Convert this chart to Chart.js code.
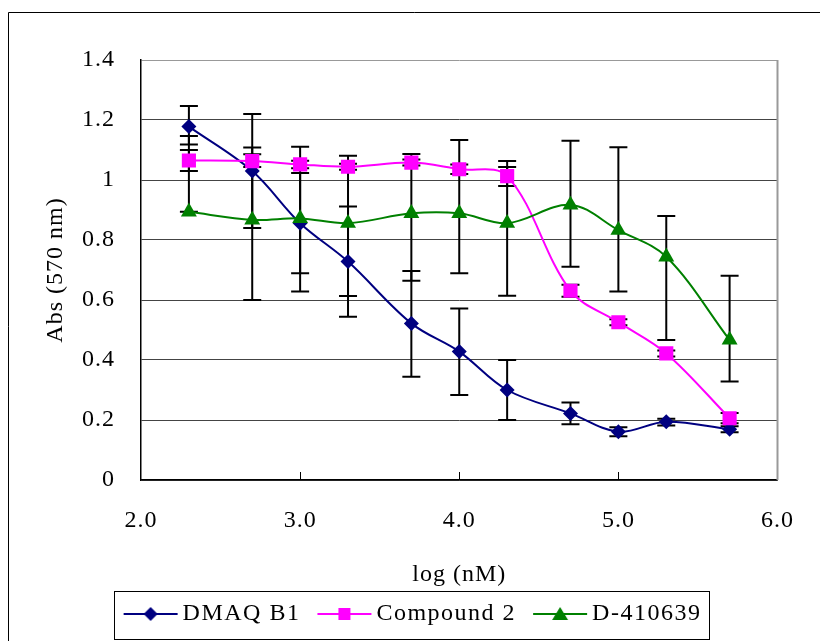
<!DOCTYPE html>
<html>
<head>
<meta charset="utf-8">
<script src="https://cdn.jsdelivr.net/npm/chart.js@4.4.1/dist/chart.umd.min.js"></script>
<style>
  html, body { margin: 0; padding: 0; background: #fff; }
  #wrap { width: 820px; height: 641px; position: relative; }
</style>
</head>
<body>
<div id="wrap"><canvas id="c"></canvas></div>
<script>
// ---- data ----
const logConc = [2.301, 2.699, 3.0, 3.301, 3.699, 4.0, 4.301, 4.699, 5.0, 5.301, 5.699];
const seriesNames = ['DMAQ B1', 'Compound 2', 'D-410639'];

const dmaqB1 =   [1.178, 1.03, 0.856, 0.728, 0.522, 0.428, 0.30, 0.222, 0.161, 0.194, 0.169];
const dmaqErrPlus  = [0.069, 0.19, 0.167, 0.184, 0.175, 0.144, 0.10, 0.036, 0.015, 0.010, 0.010];
const dmaqErrMinus = [0.060, 0.19, 0.167, 0.184, 0.178, 0.145, 0.10, 0.036, 0.015, 0.012, 0.010];

const compound2 = [1.065, 1.063, 1.052, 1.044, 1.058, 1.036, 1.013, 0.631, 0.526, 0.422, 0.206];
const cmpdErrPlus  = [0.035, 0.023, 0.012, 0.010, 0.010, 0.016, 0.030, 0.020, 0.010, 0.010, 0.017];
const cmpdErrMinus = [0.035, 0.020, 0.013, 0.010, 0.010, 0.016, 0.033, 0.020, 0.010, 0.010, 0.017];

const d410639 = [0.894, 0.867, 0.872, 0.856, 0.889, 0.889, 0.856, 0.917, 0.833, 0.744, 0.467];
const d410ErrPlus  = [0.253, 0.241, 0.239, 0.225, 0.198, 0.244, 0.207, 0.214, 0.276, 0.136, 0.214];
const d410ErrMinus = [0.000, 0.267, 0.244, 0.243, 0.225, 0.200, 0.242, 0.206, 0.205, 0.277, 0.139];

const xTickValues = [2, 3, 4, 5, 6];
const yTickValues = [0, 0.2, 0.4, 0.6, 0.8, 1.0, 1.2, 1.4];

// ---- styling ----
const FONT = "'Liberation Serif', 'Times New Roman', serif";
const colors = ['#000080', '#FF00FF', '#008000'];
const styles = ['rectRot', 'rect', 'triangle'];
const radii = [7.5, 10, 9.2];

Chart.defaults.font.family = FONT;
Chart.defaults.color = '#000';

function toXY(vals) { return vals.map((v, i) => ({ x: logConc[i], y: v })); }

const errors = [
  { plus: dmaqErrPlus, minus: dmaqErrMinus, vals: dmaqB1 },
  { plus: cmpdErrPlus, minus: cmpdErrMinus, vals: compound2 },
  { plus: d410ErrPlus, minus: d410ErrMinus, vals: d410639 }
];

// legend icon: line with marker; drawn image is 70 wide, centred on a 52 px legend box
function makeIcon(i) {
  const cv = document.createElement('canvas');
  cv.width = 70; cv.height = 22;
  const c = cv.getContext('2d');
  c.strokeStyle = colors[i]; c.lineWidth = 2;
  c.beginPath(); c.moveTo(14, 11); c.lineTo(68, 11); c.stroke();
  c.fillStyle = colors[i];
  const cx = 41;
  c.beginPath();
  if (i === 0) { c.moveTo(cx, 4); c.lineTo(cx + 7, 11); c.lineTo(cx, 18); c.lineTo(cx - 7, 11); }
  else if (i === 1) { c.rect(cx - 6, 5, 12, 12); }
  else { c.moveTo(cx, 4); c.lineTo(cx + 8, 17); c.lineTo(cx - 8, 17); }
  c.closePath(); c.fill();
  return cv;
}
const icons = [0, 1, 2].map(makeIcon);

const datasets = [dmaqB1, compound2, d410639].map((vals, i) => ({
  label: seriesNames[i],
  data: toXY(vals),
  borderColor: colors[i],
  backgroundColor: colors[i],
  borderWidth: 2,
  pointStyle: styles[i],
  pointRadius: radii[i],
  pointHoverRadius: radii[i],
  pointBorderWidth: 0,
  tension: 0.35,
  order: 3 - i,
  yAxisID: 'y'
}));

const spacingPlugin = {
  id: 'spacing',
  afterInit(chart) {
    const lg = chart.legend;
    if (!lg) return;
    const wrap = fn => function (...args) {
      const c = chart.ctx;
      const prev = c.letterSpacing;
      c.letterSpacing = '1.5px';
      const r = fn.apply(this, args);
      c.letterSpacing = prev;
      return r;
    };
    lg.fit = wrap(lg.fit);
    lg.draw = wrap(lg.draw);
  },
  beforeUpdate(chart) {
    chart.ctx.letterSpacing = '1px';
  }
};

const errorBarPlugin = {
  id: 'errorBars',
  beforeDatasetsDraw(chart) {
    const ctx = chart.ctx, xs = chart.scales.x, ys = chart.scales.y;
    ctx.save();
    ctx.strokeStyle = '#000'; ctx.lineWidth = 2;
    errors.forEach(e => {
      e.vals.forEach((v, j) => {
        const px = xs.getPixelForValue(logConc[j]);
        const top = ys.getPixelForValue(v + e.plus[j]);
        const bot = ys.getPixelForValue(v - e.minus[j]);
        ctx.beginPath();
        ctx.moveTo(px, top); ctx.lineTo(px, bot);
        ctx.moveTo(px - 9, top); ctx.lineTo(px + 9, top);
        ctx.moveTo(px - 9, bot); ctx.lineTo(px + 9, bot);
        ctx.stroke();
      });
    });
    ctx.restore();
  }
};

const framePlugin = {
  id: 'frame',
  beforeDraw(chart) {
    const ctx = chart.ctx;
    ctx.save();
    ctx.fillStyle = '#fff'; ctx.fillRect(0, 0, chart.width, chart.height);
    ctx.restore();
  },
  afterDraw(chart) {
    const ctx = chart.ctx, a = chart.chartArea, xs = chart.scales.x;
    ctx.save();
    // outer frame
    ctx.strokeStyle = '#000'; ctx.lineWidth = 1;
    ctx.beginPath();
    ctx.moveTo(8.5, chart.height); ctx.lineTo(8.5, 12.5); ctx.lineTo(chart.width, 12.5);
    ctx.stroke();
    // right border of plot area
    ctx.strokeStyle = '#999'; ctx.lineWidth = 2;
    ctx.beginPath(); ctx.moveTo(a.right, a.top); ctx.lineTo(a.right, a.bottom); ctx.stroke();
    // inside tick marks on x axis
    ctx.strokeStyle = '#000'; ctx.lineWidth = 1;
    ctx.beginPath();
    xs.ticks.forEach(t => {
      if (t.value > xs.min && t.value < xs.max) {
        const px = Math.round(xs.getPixelForValue(t.value)) + 0.5;
        ctx.moveTo(px, a.bottom); ctx.lineTo(px, a.bottom - 8);
      }
    });
    ctx.stroke();
    // legend box
    const hb = chart.legend.legendHitBoxes;
    if (hb && hb.length) {
      const l = Math.min(...hb.map(h => h.left)) - 5;
      const r = Math.max(...hb.map(h => h.left + h.width)) + 7;
      const cy = hb[0].top + hb[0].height / 2;
      ctx.strokeStyle = '#000'; ctx.lineWidth = 1;
      ctx.strokeRect(Math.round(l) + 0.5, Math.round(cy - 23) + 0.5, Math.round(r - l), 48);
    }
    ctx.restore();
  }
};

new Chart(document.getElementById('c'), {
  type: 'line',
  data: { datasets },
  plugins: [spacingPlugin, errorBarPlugin, framePlugin],
  options: {
    responsive: true,
    maintainAspectRatio: false,
    animation: false,
    layout: { padding: { top: 60, right: 0, bottom: 5, left: 0 } },
    plugins: {
      tooltip: { enabled: false },
      legend: {
        position: 'bottom',
        labels: {
          usePointStyle: true,
          pointStyleWidth: 52,
          padding: 12,
          font: { size: 24, family: FONT },
          color: '#000',
          sort: (a, b) => a.datasetIndex - b.datasetIndex,
          generateLabels(chart) {
            const items = Chart.defaults.plugins.legend.labels.generateLabels(chart);
            items.forEach(it => { it.pointStyle = icons[it.datasetIndex]; });
            return items;
          }
        }
      }
    },
    scales: {
      x: {
        type: 'linear',
        min: 2, max: 6,
        afterBuildTicks(scale) { scale.ticks = xTickValues.map(v => ({ value: v })); },
        afterFit(scale) { scale.height = 110; },
        ticks: {
          padding: 26,
          font: { size: 24 },
          color: '#000',
          maxRotation: 0,
          callback: v => Number(v).toFixed(1)
        },
        grid: { display: false, drawTicks: false },
        border: { display: true, color: '#000', width: 1.5 },
        title: {
          display: true,
          text: 'log (nM)',
          font: { size: 24 },
          color: '#000',
          padding: { top: 0, bottom: 1 }
        }
      },
      y: {
        min: 0, max: 1.4,
        afterBuildTicks(scale) { scale.ticks = yTickValues.map(v => ({ value: v })); },
        afterFit(scale) { scale.width = 141; },
        ticks: {
          padding: 26,
          font: { size: 24 },
          color: '#000',
          callback: v => String(Number(Number(v).toFixed(1)))
        },
        grid: {
          drawTicks: false,
          color: ctx => (ctx.tick && Math.abs(ctx.tick.value - 1.4) < 1e-6) ? '#999' : '#444',
          lineWidth: 1
        },
        border: { display: true, color: '#000', width: 1.5 },
        title: {
          display: true,
          text: 'Abs (570 nm)',
          font: { size: 24 },
          color: '#000',
          padding: { top: 41, bottom: 0 }
        }
      },
      yRight: {
        position: 'right',
        min: 0, max: 1,
        afterFit(scale) { scale.width = 35; },
        ticks: { display: false },
        grid: { display: false, drawTicks: false },
        border: { display: false },
        title: { display: false }
      }
    }
  }
});
</script>
</body>
</html>
